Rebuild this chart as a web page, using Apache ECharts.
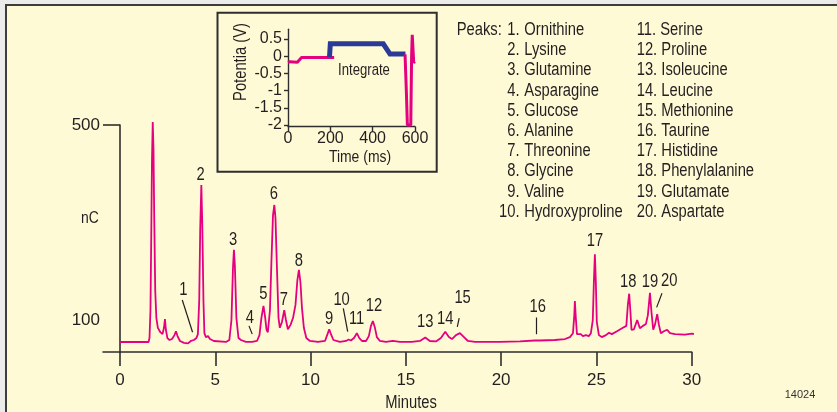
<!DOCTYPE html>
<html><head><meta charset="utf-8">
<script src="https://cdn.jsdelivr.net/npm/echarts@6/dist/echarts.min.js"></script>
<style>
html,body{margin:0;padding:0;background:#ebebeb;overflow:hidden;}
#bg{position:absolute;left:5px;top:4px;width:832px;height:408px;box-sizing:border-box;background:#FFFAD6;border-top:2px solid #3c3c3c;border-left:2px solid #3c3c3c;}
#c{position:absolute;left:0;top:0;width:837px;height:412px;}
</style></head><body>
<div id="bg"></div><div id="c"></div>
<script>
// ---------- data ----------
const chromatogram = [[0,54.9],[1.50,54.9],[1.55,63.2],[1.60,120.5],[1.64,264],[1.68,428],[1.72,506],[1.76,449],[1.80,305],[1.85,161],[1.91,104],[1.99,84],[2.12,75],[2.23,71],[2.31,84],[2.36,102],[2.41,80],[2.49,63],[2.60,59],[2.73,61],[2.86,69],[2.94,77],[3.02,67],[3.15,57],[3.36,53],[3.57,52],[3.72,57],[3.88,59],[4.01,63],[4.09,71],[4.16,141],[4.21,285],[4.27,377],[4.32,295],[4.38,141],[4.43,73],[4.51,65],[4.62,67],[4.72,61],[4.93,57],[5.56,55],[5.74,59],[5.85,100],[5.93,207],[5.98,244],[6.03,211],[6.11,104],[6.22,63],[6.35,59],[6.61,55],[6.93,55],[7.03,57],[7.19,57],[7.32,69],[7.42,104],[7.53,129],[7.61,108],[7.69,80],[7.76,75],[7.87,120],[7.95,223],[8.03,315],[8.10,336],[8.16,309],[8.24,203],[8.32,104],[8.39,84],[8.50,96],[8.62,120],[8.71,100],[8.81,81],[8.95,90],[9.08,104],[9.21,131],[9.31,182],[9.39,203],[9.47,178],[9.55,125],[9.65,84],[9.78,63],[9.97,57],[10.39,55],[10.76,57],[10.89,71],[10.98,81],[11.07,71],[11.20,59],[11.54,55],[11.86,57],[12.00,60],[12.12,58],[12.28,63],[12.43,73],[12.56,63],[12.70,57],[12.91,57],[13.06,67],[13.17,88],[13.27,98],[13.38,84],[13.48,65],[13.64,57],[13.96,55],[14.32,57],[14.69,55],[15.32,55],[15.74,57],[16.02,64],[16.26,57],[16.58,56],[16.84,63],[17.07,76],[17.26,65],[17.42,61],[17.63,69],[17.84,73],[18.05,65],[18.26,57],[18.63,55],[19.94,55],[20.99,56],[21.77,58],[21.87,60],[22.04,58],[22.82,59],[23.35,61],[23.61,65],[23.77,73],[23.84,110],[23.87,139],[23.92,104],[23.98,71],[24.08,67],[24.18,71],[24.29,67],[24.45,69],[24.60,67],[24.71,73],[24.81,100],[24.87,182],[24.92,235],[24.97,178],[25.02,96],[25.13,69],[25.28,65],[25.50,69],[25.66,74],[25.81,71],[26.08,77],[26.39,84],[26.57,88],[26.65,131],[26.72,154],[26.78,120],[26.84,80],[26.97,81],[27.14,100],[27.28,83],[27.44,88],[27.60,92],[27.70,110],[27.81,156],[27.89,116],[27.98,80],[28.07,90],[28.19,112],[28.28,90],[28.38,73],[28.54,77],[28.71,80],[28.86,73],[29.12,71],[29.64,70],[30.01,72],[30.26,71]];

const xTickValues = [0, 5, 10, 15, 20, 25, 30];
const yTickValues = [500];
const yLabelValues = [100, 500];

// peak number labels: [minutes, nC, text]
const peakLabels = [[3.32,161,'1'],[4.23,397,'2'],[5.94,264,'3'],[6.82,105,'4'],[7.52,153,'5'],[8.08,358,'6'],[8.60,142,'7'],[9.39,222,'8'],[10.97,103,'9'],[11.63,142,'10'],[12.42,101,'11'],[13.33,129,'12'],[16.02,96,'13'],[17.07,101,'14'],[17.98,145,'15'],[21.92,126,'16'],[24.92,261,'17'],[26.67,177,'18'],[27.81,177,'19'],[28.82,179,'20']];
// leader lines: [[t0,v0],[t1,v1]]
const leaders = [[[3.27,141],[3.81,75]],[[6.77,88],[6.94,71]],[[11.72,124],[11.95,76]],[[17.80,104],[17.70,86]],[[21.83,105],[21.83,71]],[[28.44,155],[28.16,126]]];

const peakNamesCol1 = ['Ornithine','Lysine','Glutamine','Asparagine','Glucose','Alanine','Threonine','Glycine','Valine','Hydroxyproline'];
const peakNamesCol2 = ['Serine','Proline','Isoleucine','Leucine','Methionine','Taurine','Histidine','Phenylalanine','Glutamate','Aspartate'];

// inset waveform (ms, V)
const wavePinkA = [[0,-0.18],[10,-0.16],[12,-0.19],[44,-0.18],[64,-0.04],[218,-0.04]];
const waveBlue = [[196,-0.03],[200,0.36],[450,0.36],[482,0.06],[555,0.06]];
const wavePinkB = [[553,0.05],[559,-1.0],[564,-2.0],[580,-2.0],[584,0.0],[587,0.62],[591,0.62],[594,-0.2],[598,-0.16]];
const insetXTicks = [0, 200, 400, 600];
const insetYTicks = [-2, -1.5, -1, -0.5, 0, 0.5];

// ---------- chart ----------
const FONT = "'Liberation Sans',Arial,sans-serif";
const SX = 0.82; // condensed look
const TXT = '#231f20';
const AX = '#2e2e2e';
const chart = echarts.init(document.getElementById('c'), null, {renderer: 'canvas'});

function txt(x, y, s, size, align, extra) {
  return Object.assign({type:'text', x:x, y:y, scaleX:SX,
    style:{text:s, font:size+'px '+FONT, fill:TXT, textAlign:align, textVerticalAlign:'middle'}}, extra || {});
}
const graphics = [];
graphics.push({type:'rect', shape:{x:217.5, y:12.7, width:219.2, height:159}, style:{fill:'none', stroke:AX, lineWidth:2}, z:1});
graphics.push(txt(456.7, 30, 'Peaks:', 18, 'left'));
peakNamesCol1.forEach((n,i)=>{
  const y = 30 + i*20.2;
  graphics.push(txt(519.6, y, (i+1)+'.', 18, 'right'));
  graphics.push(txt(524.3, y, n, 18, 'left'));
});
peakNamesCol2.forEach((n,i)=>{
  const y = 30 + i*20.2;
  graphics.push(txt(636.7, y, (i+11)+'. '+n, 18, 'left'));
});
graphics.push(txt(90, 218, 'nC', 17, 'center'));
graphics.push(txt(411, 403, 'Minutes', 18, 'center'));
graphics.push(txt(241, 62, 'Potentia (V)', 18, 'center', {rotation:Math.PI/2}));
graphics.push(txt(360, 157, 'Time (ms)', 17, 'center'));
graphics.push(txt(364, 71, 'Integrate', 16, 'center'));
graphics.push({type:'text', x:800, y:395, style:{text:'14024', font:'11px '+FONT, fill:'#333', textAlign:'center', textVerticalAlign:'middle'}});

const option = {
  animation: false,
  backgroundColor: 'transparent',
  textStyle: {fontFamily: FONT},
  grid: [
    {left:103, top:125, width:588.7, height:227, containLabel:false},
    {left:288, top:29.3, width:127, height:97.4, containLabel:false}
  ],
  xAxis: [
    {gridIndex:0, type:'value', min:-0.89, max:30,
     axisLine:{show:true, lineStyle:{color:AX, width:1.6}},
     axisTick:{show:true, customValues:xTickValues, length:14, lineStyle:{color:AX, width:1.6}},
     axisLabel:{show:true, customValues:xTickValues, margin:20, fontSize:17, color:TXT, fontFamily:FONT},
     splitLine:{show:false}},
    {gridIndex:1, type:'value', min:0, max:600,
     axisLine:{show:true, onZero:false, lineStyle:{color:AX, width:1.4}},
     axisTick:{show:true, customValues:insetXTicks, length:5, lineStyle:{color:AX, width:1.4}},
     axisLabel:{show:true, customValues:insetXTicks, margin:4, fontSize:16, color:TXT, fontFamily:FONT},
     splitLine:{show:false}}
  ],
  yAxis: [
    {gridIndex:0, type:'value', min:34.4, max:500,
     axisLine:{show:true, onZero:true, lineStyle:{color:AX, width:1.6}},
     axisTick:{show:true, customValues:yTickValues, length:17, lineStyle:{color:AX, width:1.6}},
     axisLabel:{show:true, customValues:yLabelValues, margin:3, fontSize:17, color:TXT, fontFamily:FONT},
     splitLine:{show:false}},
    {gridIndex:1, type:'value', min:-2.05, max:0.78,
     axisLine:{show:true, onZero:false, lineStyle:{color:AX, width:1.4}},
     axisTick:{show:true, customValues:insetYTicks, length:4, lineStyle:{color:AX, width:1.4}},
     axisLabel:{show:true, customValues:insetYTicks, margin:6, fontSize:16, color:TXT, fontFamily:FONT},
     splitLine:{show:false}}
  ],
  series: [
    {type:'line', xAxisIndex:0, yAxisIndex:0, data:chromatogram, showSymbol:false, clip:false, silent:true,
     lineStyle:{color:'#E4007F', width:1.8}, z:3},
    {type:'custom', xAxisIndex:0, yAxisIndex:0, data:peakLabels, silent:true, clip:false, z:4,
     renderItem:(params, api)=>{
       const p = api.coord([api.value(0), api.value(1)]);
       return {type:'text', x:p[0], y:p[1], scaleX:SX,
         style:{text:peakLabels[params.dataIndex][2], font:'18px '+FONT, fill:TXT, textAlign:'center', textVerticalAlign:'middle'}};
     }},
    {type:'lines', coordinateSystem:'cartesian2d', xAxisIndex:0, yAxisIndex:0, silent:true,
     data:leaders.map(c=>({coords:c})), lineStyle:{color:TXT, width:1.2, opacity:1}, z:4},
    {type:'line', xAxisIndex:1, yAxisIndex:1, data:wavePinkA, showSymbol:false, silent:true, clip:false,
     lineStyle:{color:'#E4007F', width:3}, z:3},
    {type:'line', xAxisIndex:1, yAxisIndex:1, data:waveBlue, showSymbol:false, silent:true, clip:false,
     lineStyle:{color:'#2B3A97', width:5, join:'miter'}, z:4},
    {type:'line', xAxisIndex:1, yAxisIndex:1, data:wavePinkB, showSymbol:false, silent:true, clip:false,
     lineStyle:{color:'#E4007F', width:3}, z:5}
  ],
  graphic: graphics
};
chart.setOption(option);
</script>
</body></html>
